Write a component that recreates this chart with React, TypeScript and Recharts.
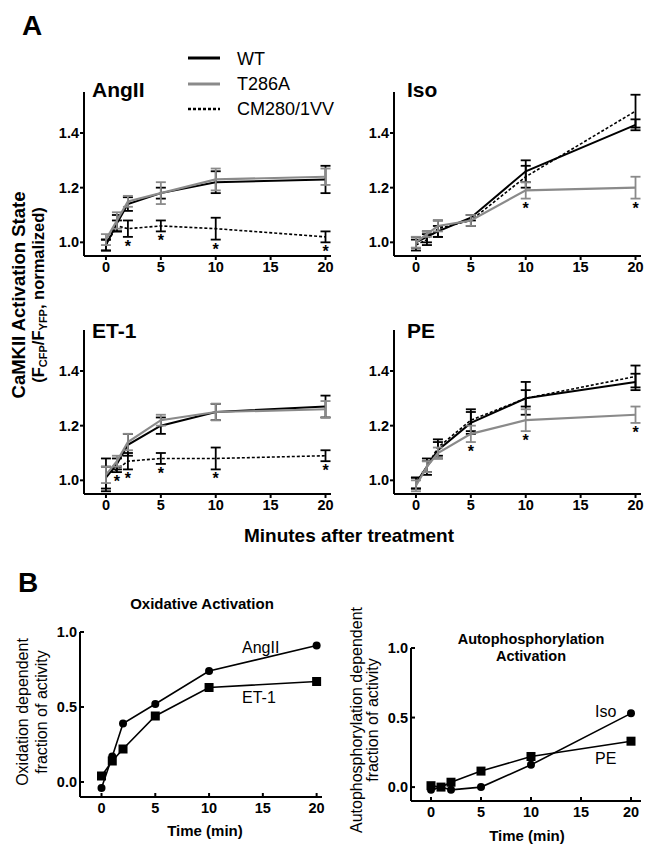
import React from "react";
import { LineChart, Line, XAxis, YAxis, ErrorBar } from "recharts";

const FONT = "'Liberation Sans', Arial, Helvetica, sans-serif";

// ---------- Panel A data ----------
const minutes = [0, 1, 2, 5, 10, 20];

const angWT = [0.99, 1.07, 1.14, 1.18, 1.22, 1.23];
const angWTErr = [0.02, 0.03, 0.025, 0.02, 0.04, 0.05];
const angTA = [1.01, 1.08, 1.15, 1.18, 1.23, 1.24];
const angTAErr = [0.02, 0.03, 0.02, 0.04, 0.04, 0.03];
const angCM = [0.99, 1.06, 1.05, 1.06, 1.05, 1.02];
const angCMErr = [0.02, 0.02, 0.03, 0.02, 0.04, 0.02];
const angStars = [2, 5, 10, 20];

const isoWT = [1.0, 1.02, 1.04, 1.09, 1.26, 1.43];
const isoWTErr = [0.02, 0.02, 0.02, 0.01, 0.04, 0.02];
const isoTA = [1.0, 1.03, 1.06, 1.08, 1.19, 1.2];
const isoTAErr = [0.02, 0.01, 0.02, 0.02, 0.03, 0.04];
const isoCM = [0.99, 1.01, 1.05, 1.08, 1.24, 1.48];
const isoCMErr = [0.02, 0.02, 0.03, 0.02, 0.04, 0.06];
const isoStars = [10, 20];

const etWT = [1.01, 1.06, 1.13, 1.2, 1.25, 1.27];
const etWTErr = [0.04, 0.02, 0.04, 0.03, 0.03, 0.04];
const etTA = [1.02, 1.07, 1.14, 1.22, 1.25, 1.26];
const etTAErr = [0.03, 0.02, 0.03, 0.02, 0.03, 0.03];
const etCM = [1.02, 1.04, 1.07, 1.08, 1.08, 1.09];
const etCMErr = [0.06, 0.01, 0.03, 0.02, 0.04, 0.02];
const etStars = [1, 2, 5, 10, 20];

const peWT = [0.99, 1.05, 1.11, 1.21, 1.3, 1.36];
const peWTErr = [0.02, 0.02, 0.03, 0.04, 0.06, 0.03];
const peTA = [0.98, 1.05, 1.1, 1.17, 1.22, 1.24];
const peTAErr = [0.02, 0.02, 0.02, 0.03, 0.04, 0.03];
const peCM = [0.99, 1.05, 1.12, 1.22, 1.3, 1.38];
const peCMErr = [0.02, 0.03, 0.03, 0.04, 0.03, 0.04];
const peStars = [5, 10, 20];

const aYTicks = [1.0, 1.2, 1.4];
const xTicks = [0, 5, 10, 15, 20];

// ---------- Panel B data ----------
const oxAngII = [-0.04, 0.17, 0.39, 0.52, 0.74, 0.91];
const oxET1 = [0.04, 0.14, 0.22, 0.44, 0.63, 0.67];
const apIso = [-0.02, 0.0, -0.02, 0.0, 0.16, 0.53];
const apPE = [0.01, 0.0, 0.035, 0.115, 0.22, 0.33];
const bYTicks = [0.0, 0.5, 1.0];

type Rect = { x0: number; y0: number; x1: number; y1: number };

function buildARows(
  wt: number[], wtE: number[], ta: number[], taE: number[], cm: number[], cmE: number[],
  stars: number[], starSeries: "ta" | "cm"
) {
  return minutes.map((t, i) => {
    const base = starSeries === "cm" ? cm[i] - cmE[i] : ta[i] - taE[i];
    return {
      t,
      wt: wt[i], wtErr: wtE[i],
      ta: ta[i], taErr: taE[i],
      cm: cm[i], cmErr: cmE[i],
      star: stars.includes(t) ? base : null,
    };
  });
}

const angRows = buildARows(angWT, angWTErr, angTA, angTAErr, angCM, angCMErr, angStars, "cm");
const isoRows = buildARows(isoWT, isoWTErr, isoTA, isoTAErr, isoCM, isoCMErr, isoStars, "ta");
const etRows = buildARows(etWT, etWTErr, etTA, etTAErr, etCM, etCMErr, etStars, "cm");
const peRows = buildARows(peWT, peWTErr, peTA, peTAErr, peCM, peCMErr, peStars, "ta");

const GRAY = "#8a8a8a";
const PAD_L = 60;
const PAD_T = 10;
const PAD_R = 10;
const PAD_B = 30;

const tickStyle = { fill: "#000", fontSize: 14.5, fontWeight: "bold" as const, fontFamily: FONT };
const axisStroke = { stroke: "#000", strokeWidth: 2 };

function StarDot(p: any) {
  if (p.payload == null || p.payload.star == null || p.cy == null) return <g key={`s${p.index}`} />;
  return (
    <text key={`s${p.index}`} x={p.cx} y={p.cy + 15} textAnchor="middle" fontSize={16}
      fontWeight="bold" fontFamily={FONT} fill="#000">*</text>
  );
}

function APanel({ rows, r }: { rows: any[]; r: Rect }) {
  const w = r.x1 - r.x0 + PAD_L + PAD_R;
  const h = r.y1 - r.y0 + PAD_T + PAD_B;
  return (
    <div style={{ position: "absolute", left: r.x0 - PAD_L, top: r.y0 - PAD_T }}>
      <LineChart width={w} height={h} data={rows} margin={{ top: PAD_T, right: PAD_R, bottom: 0, left: 0 }}>
        <XAxis type="number" dataKey="t" domain={[-2, 20.5]} ticks={xTicks} allowDataOverflow
          height={PAD_B} axisLine={axisStroke} tickLine={axisStroke} tickSize={4} tickMargin={2} tick={tickStyle} />
        <YAxis type="number" domain={[0.95, 1.55]} ticks={aYTicks} allowDataOverflow width={PAD_L}
          axisLine={axisStroke} tickLine={axisStroke} tickSize={4} tickMargin={1} tick={tickStyle}
          tickFormatter={(v: number) => v.toFixed(1)} />
        <Line type="linear" dataKey="cm" stroke="#000" strokeWidth={1.6} strokeDasharray="3 2" dot={false}
          isAnimationActive={false}>
          <ErrorBar dataKey="cmErr" width={5} stroke="#000" strokeWidth={1.8} direction="y" />
        </Line>
        <Line type="linear" dataKey="wt" stroke="#000" strokeWidth={2} dot={false} isAnimationActive={false}>
          <ErrorBar dataKey="wtErr" width={5} stroke="#000" strokeWidth={1.8} direction="y" />
        </Line>
        <Line type="linear" dataKey="ta" stroke={GRAY} strokeWidth={2.2} dot={false} isAnimationActive={false}>
          <ErrorBar dataKey="taErr" width={5} stroke={GRAY} strokeWidth={1.8} direction="y" />
        </Line>
        <Line type="linear" dataKey="star" stroke="none" dot={StarDot} activeDot={false} legendType="none"
          isAnimationActive={false} />
      </LineChart>
    </div>
  );
}

function CircleDot(p: any) {
  if (p.cy == null) return <g key={`c${p.index}`} />;
  return <circle key={`c${p.index}`} cx={p.cx} cy={p.cy} r={4} fill="#000" />;
}
function SquareDot(p: any) {
  if (p.cy == null) return <g key={`q${p.index}`} />;
  return <rect key={`q${p.index}`} x={p.cx - 4.5} y={p.cy - 4.5} width={9} height={9} fill="#000" />;
}

function BPanel({ circ, sq, r, xMax }: { circ: number[]; sq: number[]; r: Rect; xMax: number }) {
  const rows = minutes.map((t, i) => ({ t, circ: circ[i], sq: sq[i] }));
  const w = r.x1 - r.x0 + PAD_L + PAD_R;
  const h = r.y1 - r.y0 + PAD_T + PAD_B;
  return (
    <div style={{ position: "absolute", left: r.x0 - PAD_L, top: r.y0 - PAD_T }}>
      <LineChart width={w} height={h} data={rows} margin={{ top: PAD_T, right: PAD_R, bottom: 0, left: 0 }}>
        <XAxis type="number" dataKey="t" domain={[-2, xMax]} ticks={xTicks} allowDataOverflow
          height={PAD_B} axisLine={axisStroke} tickLine={axisStroke} tickSize={-4} tickMargin={10} tick={tickStyle} />
        <YAxis type="number" domain={[-0.1, 1.0]} ticks={bYTicks} allowDataOverflow width={PAD_L}
          axisLine={axisStroke} tickLine={axisStroke} tickSize={-4} tickMargin={7} tick={tickStyle}
          tickFormatter={(v: number) => v.toFixed(1)} />
        <Line type="linear" dataKey="sq" stroke="#000" strokeWidth={1.6} dot={SquareDot} activeDot={false}
          isAnimationActive={false} />
        <Line type="linear" dataKey="circ" stroke="#000" strokeWidth={1.6} dot={CircleDot} activeDot={false}
          isAnimationActive={false} />
      </LineChart>
    </div>
  );
}

const angRect: Rect = { x0: 84, y0: 92, x1: 331, y1: 256 };
const isoRect: Rect = { x0: 394, y0: 92, x1: 641, y1: 256 };
const etRect: Rect = { x0: 84, y0: 330, x1: 331, y1: 494 };
const peRect: Rect = { x0: 394, y0: 330, x1: 641, y1: 494 };
const oxRect: Rect = { x0: 80, y0: 632, x1: 322, y1: 797 };
const apRect: Rect = { x0: 411, y0: 648, x1: 641, y1: 801 };

export default function App() {
  const bold = { fontFamily: FONT, fontWeight: "bold" as const, fill: "#000" };
  const reg = { fontFamily: FONT, fill: "#000" };
  return (
    <div style={{ position: "absolute", left: 0, top: 0, width: 650, height: 848, background: "#fff", fontFamily: FONT }}>
      <APanel rows={angRows} r={angRect} />
      <APanel rows={isoRows} r={isoRect} />
      <APanel rows={etRows} r={etRect} />
      <APanel rows={peRows} r={peRect} />
      <BPanel circ={oxAngII} sq={oxET1} r={oxRect} xMax={20.5} />
      <BPanel circ={apIso} sq={apPE} r={apRect} xMax={21} />
      <svg width={650} height={848} style={{ position: "absolute", left: 0, top: 0, pointerEvents: "none" }}>
        <text x={22} y={35} fontSize={28} {...bold}>A</text>
        <text x={18} y={592} fontSize={28} {...bold}>B</text>

        <line x1={188} x2={220} y1={58} y2={58} stroke="#000" strokeWidth={3} />
        <line x1={188} x2={220} y1={84} y2={84} stroke={GRAY} strokeWidth={3} />
        <line x1={188} x2={220} y1={109} y2={109} stroke="#000" strokeWidth={2.5} strokeDasharray="3 2" />
        <text x={237} y={65} fontSize={18} {...reg}>WT</text>
        <text x={237} y={90} fontSize={18} {...reg}>T286A</text>
        <text x={237} y={115} fontSize={18} {...reg}>CM280/1VV</text>

        <text x={92} y={97} fontSize={21} {...bold}>AngII</text>
        <text x={407} y={97} fontSize={21} {...bold}>Iso</text>
        <text x={92} y={338} fontSize={21} {...bold}>ET-1</text>
        <text x={407} y={338} fontSize={21} {...bold}>PE</text>

        <text x={349} y={542} fontSize={19} textAnchor="middle" {...bold}>Minutes after treatment</text>

        <text transform="translate(25,295) rotate(-90)" textAnchor="middle" fontSize={18.5} {...bold}>
          CaMKII Activation State
        </text>
        <text transform="translate(44,295) rotate(-90)" textAnchor="middle" fontSize={16.5} {...bold}>
          (F<tspan fontSize={11} dy={3}>CFP</tspan><tspan dy={-3}>/F</tspan>
          <tspan fontSize={11} dy={3}>YFP</tspan><tspan dy={-3}>, normalized)</tspan>
        </text>

        <text x={202} y={609} fontSize={15} textAnchor="middle" {...bold}>Oxidative Activation</text>
        <text x={531} y={644} fontSize={14.5} textAnchor="middle" {...bold}>Autophosphorylation</text>
        <text x={531} y={661} fontSize={14.5} textAnchor="middle" {...bold}>Activation</text>

        <text transform="translate(28,712) rotate(-90)" textAnchor="middle" fontSize={16} {...reg}>
          Oxidation dependent
        </text>
        <text transform="translate(47,712) rotate(-90)" textAnchor="middle" fontSize={16} {...reg}>
          fraction of activity
        </text>
        <text transform="translate(362,720) rotate(-90)" textAnchor="middle" fontSize={16} {...reg}>
          Autophosphorylation dependent
        </text>
        <text transform="translate(378,720) rotate(-90)" textAnchor="middle" fontSize={16} {...reg}>
          fraction of activity
        </text>

        <text x={205} y={836} fontSize={15} textAnchor="middle" {...bold}>Time (min)</text>
        <text x={527} y={841} fontSize={15} textAnchor="middle" {...bold}>Time (min)</text>

        <text x={242} y={653} fontSize={16} {...reg}>AngII</text>
        <text x={242} y={703} fontSize={16} {...reg}>ET-1</text>
        <text x={595} y={717} fontSize={16} {...reg}>Iso</text>
        <text x={595} y={764} fontSize={16} {...reg}>PE</text>
      </svg>
    </div>
  );
}
